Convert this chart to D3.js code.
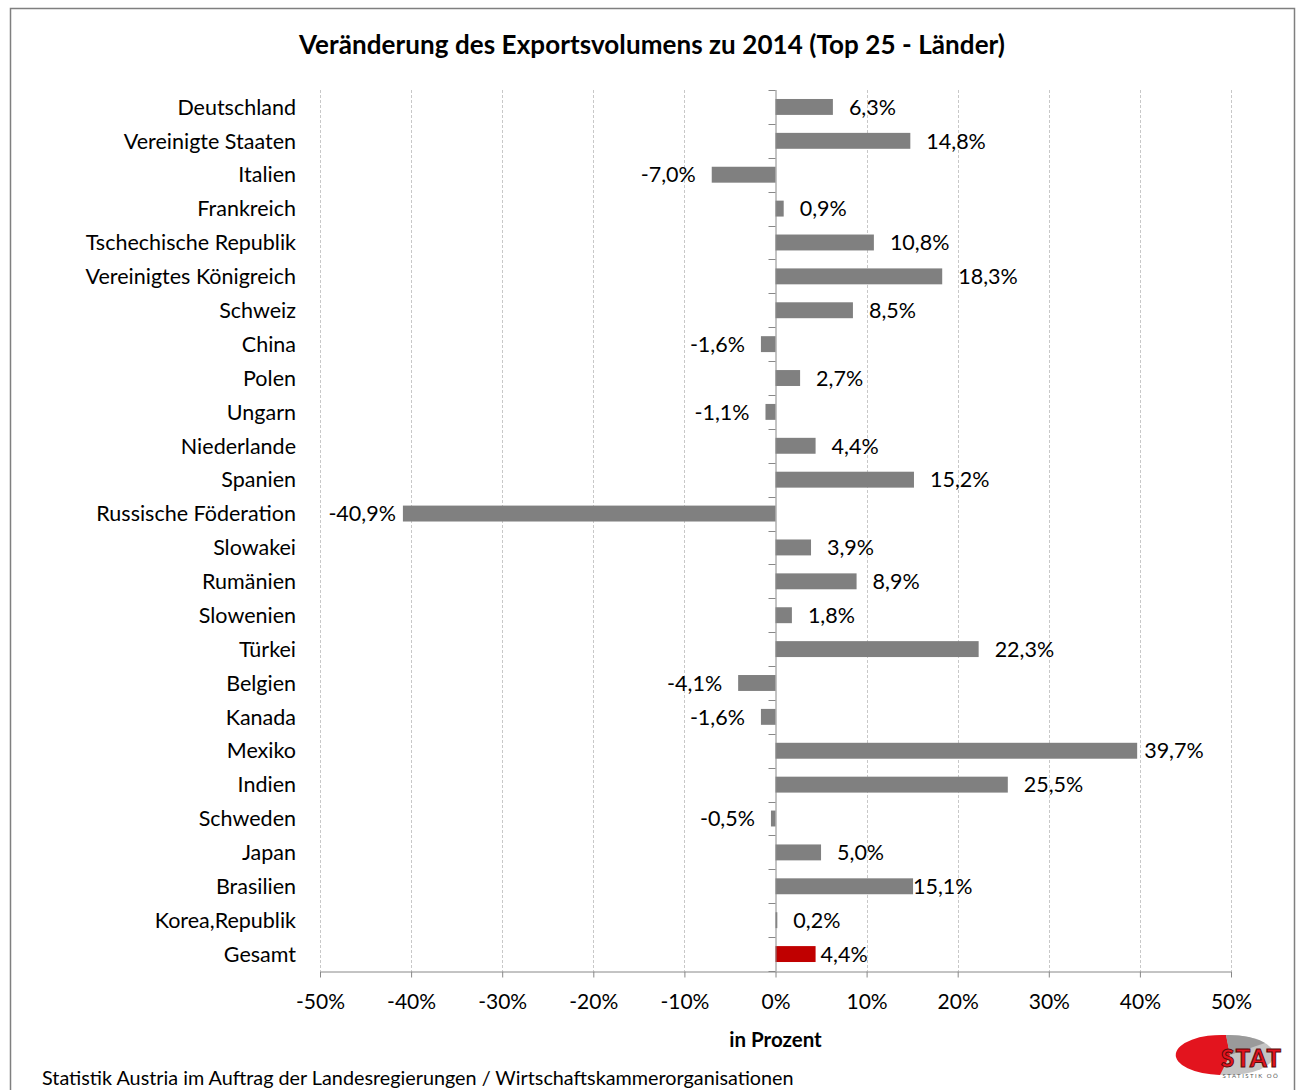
<!DOCTYPE html>
<html>
<head>
<meta charset="utf-8">
<title>Veränderung des Exportsvolumens</title>
<script src="https://cdn.jsdelivr.net/npm/d3@7"></script>
<style>
body { margin: 0; background: #fff; }
svg text { font-family: Lato, "Open Sans", sans-serif; fill: #000; }
.grid line { stroke: #c8c8c8; stroke-dasharray: 3,2; }
.axis path, .axis line { stroke: #888; }
</style>
</head>
<body>
<svg width="1297" height="1090"></svg>
<script>

// data
var countries = ["Deutschland", "Vereinigte Staaten", "Italien", "Frankreich", "Tschechische Republik",
  "Vereinigtes Königreich", "Schweiz", "China", "Polen", "Ungarn", "Niederlande", "Spanien",
  "Russische Föderation", "Slowakei", "Rumänien", "Slowenien", "Türkei", "Belgien", "Kanada",
  "Mexiko", "Indien", "Schweden", "Japan", "Brasilien", "Korea,Republik", "Gesamt"];
var change = [6.3, 14.8, -7.0, 0.9, 10.8, 18.3, 8.5, -1.6, 2.7, -1.1, 4.4, 15.2,
  -40.9, 3.9, 8.9, 1.8, 22.3, -4.1, -1.6, 39.7, 25.5, -0.5, 5.0, 15.1, 0.2, 4.4];
var xTicks = [-50, -40, -30, -20, -10, 0, 10, 20, 30, 40, 50];

var svg = d3.select("svg");

var plotL = 320, plotR = 1231, plotT = 90, plotB = 971;

var x = d3.scaleLinear().domain([-50, 50]).range([plotL, plotR]);
var y = d3.scaleBand().domain(countries).range([plotT, plotB]).paddingInner(0.53).paddingOuter(0.265);
var step = y.step();

// chart frame
svg.append("path")
    .attr("d", "M10.5,1090 V8.5 H1294.5 V1090")
    .attr("fill", "none")
    .attr("stroke", "#7f7f7f")
    .attr("stroke-width", 1.5);

svg.append("text")
    .attr("x", 652).attr("y", 54)
    .attr("text-anchor", "middle")
    .attr("font-size", 26).attr("font-weight", "bold")
    .attr("textLength", 706)
    .text("Veränderung des Exportsvolumens zu 2014 (Top 25 - Länder)");

// vertical grid
svg.append("g").attr("class", "grid")
  .selectAll("line")
  .data(xTicks.filter(function(d) { return d != 0; }))
  .enter().append("line")
    .attr("x1", function(d) { return Math.round(x(d)) + 0.5; })
    .attr("x2", function(d) { return Math.round(x(d)) + 0.5; })
    .attr("y1", plotT).attr("y2", plotB);

// bars
svg.append("g").selectAll("rect")
  .data(countries)
  .enter().append("rect")
    .attr("x", function(d, i) { return x(Math.min(0, change[i])); })
    .attr("y", function(d) { return y(d); })
    .attr("width", function(d, i) { return Math.abs(x(change[i]) - x(0)); })
    .attr("height", y.bandwidth())
    .attr("fill", function(d) { return d == "Gesamt" ? "#c00000" : "#808080"; });

// value labels (Excel squeezes a few of them against the bar)
var fmt = function(v) { return v.toFixed(1).replace(".", ",") + "%"; };
svg.append("g").selectAll("text")
  .data(countries)
  .enter().append("text")
    .attr("x", function(d, i) {
      var v = change[i];
      var gap = 16;
      if (Math.abs(v) > 30) gap = 7;
      if (d == "Gesamt") gap = 5;
      if (d == "Brasilien") gap = 0;
      return v < 0 ? x(v) - gap : x(v) + gap;
    })
    .attr("y", function(d) { return y(d) + y.bandwidth() / 2; })
    .attr("dy", "0.36em")
    .attr("text-anchor", function(d, i) { return change[i] < 0 ? "end" : "start"; })
    .attr("font-size", 21.5)
    .text(function(d, i) { return fmt(change[i]); });

// category labels
svg.append("g").selectAll("text")
  .data(countries)
  .enter().append("text")
    .attr("x", 296)
    .attr("y", function(d) { return y(d) + y.bandwidth() / 2; })
    .attr("dy", "0.36em")
    .attr("text-anchor", "end")
    .attr("font-size", 21.5)
    .text(function(d) { return d; });

// y axis at zero with ticks between categories
var yAxis = svg.append("g").attr("class", "axis");
yAxis.append("line")
    .attr("x1", x(0) + 0.5).attr("x2", x(0) + 0.5)
    .attr("y1", plotT).attr("y2", plotB);
yAxis.selectAll(".tk")
  .data(d3.range(countries.length + 1))
  .enter().append("line")
    .attr("class", "tk")
    .attr("x1", x(0) - 7).attr("x2", x(0))
    .attr("y1", function(i) { return Math.round(plotT + i * step) + 0.5; })
    .attr("y2", function(i) { return Math.round(plotT + i * step) + 0.5; });

// x axis
var xAxis = svg.append("g").attr("class", "axis")
    .attr("transform", "translate(0," + (plotB + 0.5) + ")")
    .call(d3.axisBottom(x).tickValues(xTicks).tickSize(6).tickSizeOuter(0)
      .tickFormat(function(d) { return d + "%"; }));
xAxis.attr("font-family", null);
xAxis.selectAll("text")
    .attr("font-size", 21)
    .attr("y", 23);

svg.append("text")
    .attr("x", x(0)).attr("y", 1047)
    .attr("text-anchor", "middle")
    .attr("font-size", 20.5).attr("font-weight", "bold")
    .text("in Prozent");

svg.append("text")
    .attr("x", 42).attr("y", 1085)
    .attr("font-size", 19.8)
    .text("Statistik Austria im Auftrag der Landesregierungen / Wirtschaftskammerorganisationen");

// STAT logo
var logo = svg.append("g").attr("transform", "translate(1228,1055)");
logo.append("ellipse").attr("rx", 46).attr("ry", 20).attr("fill", "#c4c4c4");
logo.append("path")
    .attr("d", "M-2,-20 A46,20 0 1,0 -8,19.9 L2,0 Z")
    .attr("fill", "#e3141e");
logo.append("path")
    .attr("d", "M-2,-20 A46,20 0 0,1 37,-12 L2,0 Z")
    .attr("fill", "#9a9a9a");
logo.append("text")
    .attr("x", 23).attr("y", 12)
    .attr("text-anchor", "middle")
    .attr("font-size", 24).attr("font-weight", "900")
    .attr("font-family", "Liberation Sans, Arial, sans-serif")
    .style("fill", "#e3141e")
    .attr("stroke", "#5a0a0a").attr("stroke-width", 1)
    .attr("textLength", 60)
    .text("STAT");
logo.append("text")
    .attr("x", 23).attr("y", 23)
    .attr("text-anchor", "middle")
    .attr("font-size", 6)
    .attr("letter-spacing", 1.5)
    .style("fill", "#555")
    .text("STATISTIK OÖ");

</script>
</body>
</html>
